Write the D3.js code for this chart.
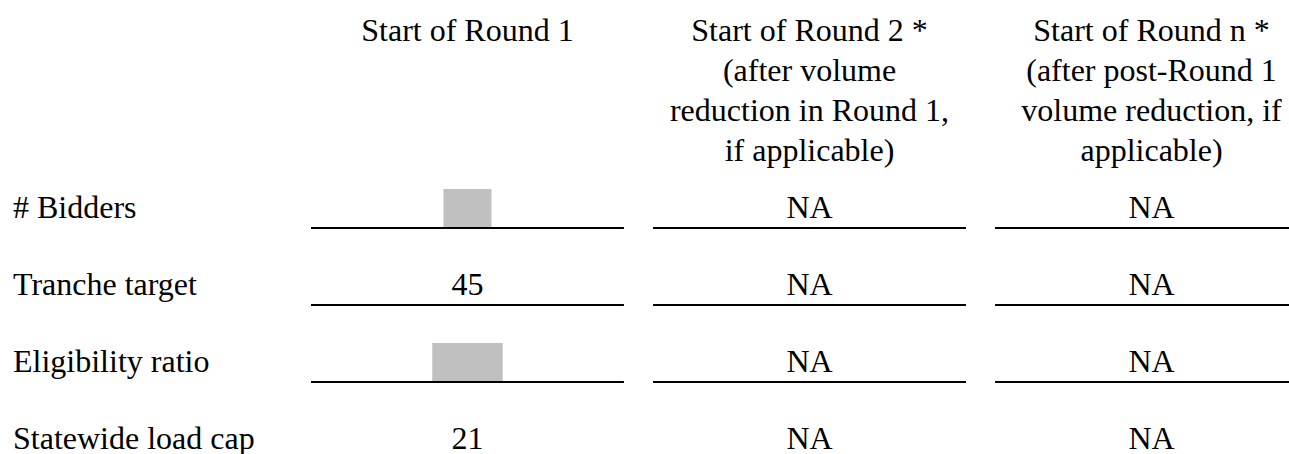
<!DOCTYPE html>
<html>
<head>
<meta charset="utf-8">
<script src="https://cdn.jsdelivr.net/npm/d3@7"></script>
<style>
  html, body { margin: 0; padding: 0; background: #fff; }
</style>
</head>
<body>
<div id="table"></div>
<script>
// row labels down the left
var rowLabels = ["# Bidders", "Tranche target", "Eligibility ratio", "Statewide load cap"];

// column headers, one entry per text line
var columnKeys = ["round1", "round2", "roundN"];
var columnHeaders = [
    ["Start of Round 1"],
    ["Start of Round 2 *", "(after volume", "reduction in Round 1,", "if applicable)"],
    ["Start of Round n *", "(after post-Round 1", "volume reduction, if", "applicable)"]
];

// cell values per column (null = greyed out / redacted in the source)
var round1Values = [null, "45", null, "21"];
var round2Values = ["NA", "NA", "NA", "NA"];
var roundNValues = ["NA", "NA", "NA", "NA"];

// size of the redaction boxes, in em
var redactedEm = [1.5, 0, 2.2, 0];

// rows that get an underline
var underlined = [true, true, true, false];

var width = 1289, height = 454;
var lineHeight = 40;
var fontSize = 32;

var svg = d3.select("#table").append("svg")
    .attr("width", width)
    .attr("height", height)
    .attr("font-family", "'Liberation Serif', Tinos, 'Times New Roman', Times, 'DejaVu Serif', serif")
    .attr("font-size", fontSize)
    .attr("fill", "#000");

// columns
var x = d3.scaleBand()
    .domain(columnKeys)
    .range([311, 1308])
    .paddingInner(0.085)
    .paddingOuter(0);

// rows
var y = d3.scaleBand()
    .domain(rowLabels)
    .range([151, 459]);

// 表头
var head = svg.selectAll(".head")
    .data(columnHeaders)
    .enter().append("text")
    .attr("class", "head")
    .attr("text-anchor", "middle")
    .attr("x", function (d, i) { return x(columnKeys[i]) + x.bandwidth() / 2; })
    .attr("y", 41);

head.selectAll("tspan")
    .data(function (d) { return d; })
    .enter().append("tspan")
    .attr("x", function () { return d3.select(this.parentNode).attr("x"); })
    .attr("dy", function (d, i) { return i === 0 ? 0 : lineHeight; })
    .text(function (d) { return d; });

// row labels
svg.selectAll(".rowLabel")
    .data(rowLabels)
    .enter().append("text")
    .attr("class", "rowLabel")
    .attr("x", 13)
    .attr("y", function (d) { return y(d) + y.bandwidth() - 10; })
    .text(function (d) { return d; });

// cells
var columns = [round1Values, round2Values, roundNValues];
var cells = [];
columns.forEach(function (vals, c) {
    vals.forEach(function (v, r) {
        cells.push({col: columnKeys[c], row: rowLabels[r], r: r, value: v});
    });
});

// underlines
svg.selectAll(".rule")
    .data(cells.filter(function (d) { return underlined[d.r]; }))
    .enter().append("line")
    .attr("class", "rule")
    .attr("x1", function (d) { return x(d.col); })
    .attr("x2", function (d) { return x(d.col) + x.bandwidth(); })
    .attr("y1", function (d) { return y(d.row) + y.bandwidth(); })
    .attr("y2", function (d) { return y(d.row) + y.bandwidth(); })
    .attr("stroke", "#000")
    .attr("stroke-width", 2);

// redacted cells -> grey box
svg.selectAll(".redact")
    .data(cells.filter(function (d) { return d.value === null; }))
    .enter().append("rect")
    .attr("class", "redact")
    .attr("x", function (d) {
        return x(d.col) + x.bandwidth() / 2 - redactedEm[d.r] * fontSize / 2;
    })
    .attr("y", function (d) { return y(d.row) + y.bandwidth() - 39; })
    .attr("width", function (d) { return redactedEm[d.r] * fontSize; })
    .attr("height", 38)
    .attr("fill", "#c0c0c0");

svg.selectAll(".val")
    .data(cells.filter(function (d) { return d.value !== null; }))
    .enter().append("text")
    .attr("class", "val")
    .attr("text-anchor", "middle")
    .attr("x", function (d) { return x(d.col) + x.bandwidth() / 2; })
    .attr("y", function (d) { return y(d.row) + y.bandwidth() - 10; })
    .text(function (d) { return d.value; });
</script>
</body>
</html>
